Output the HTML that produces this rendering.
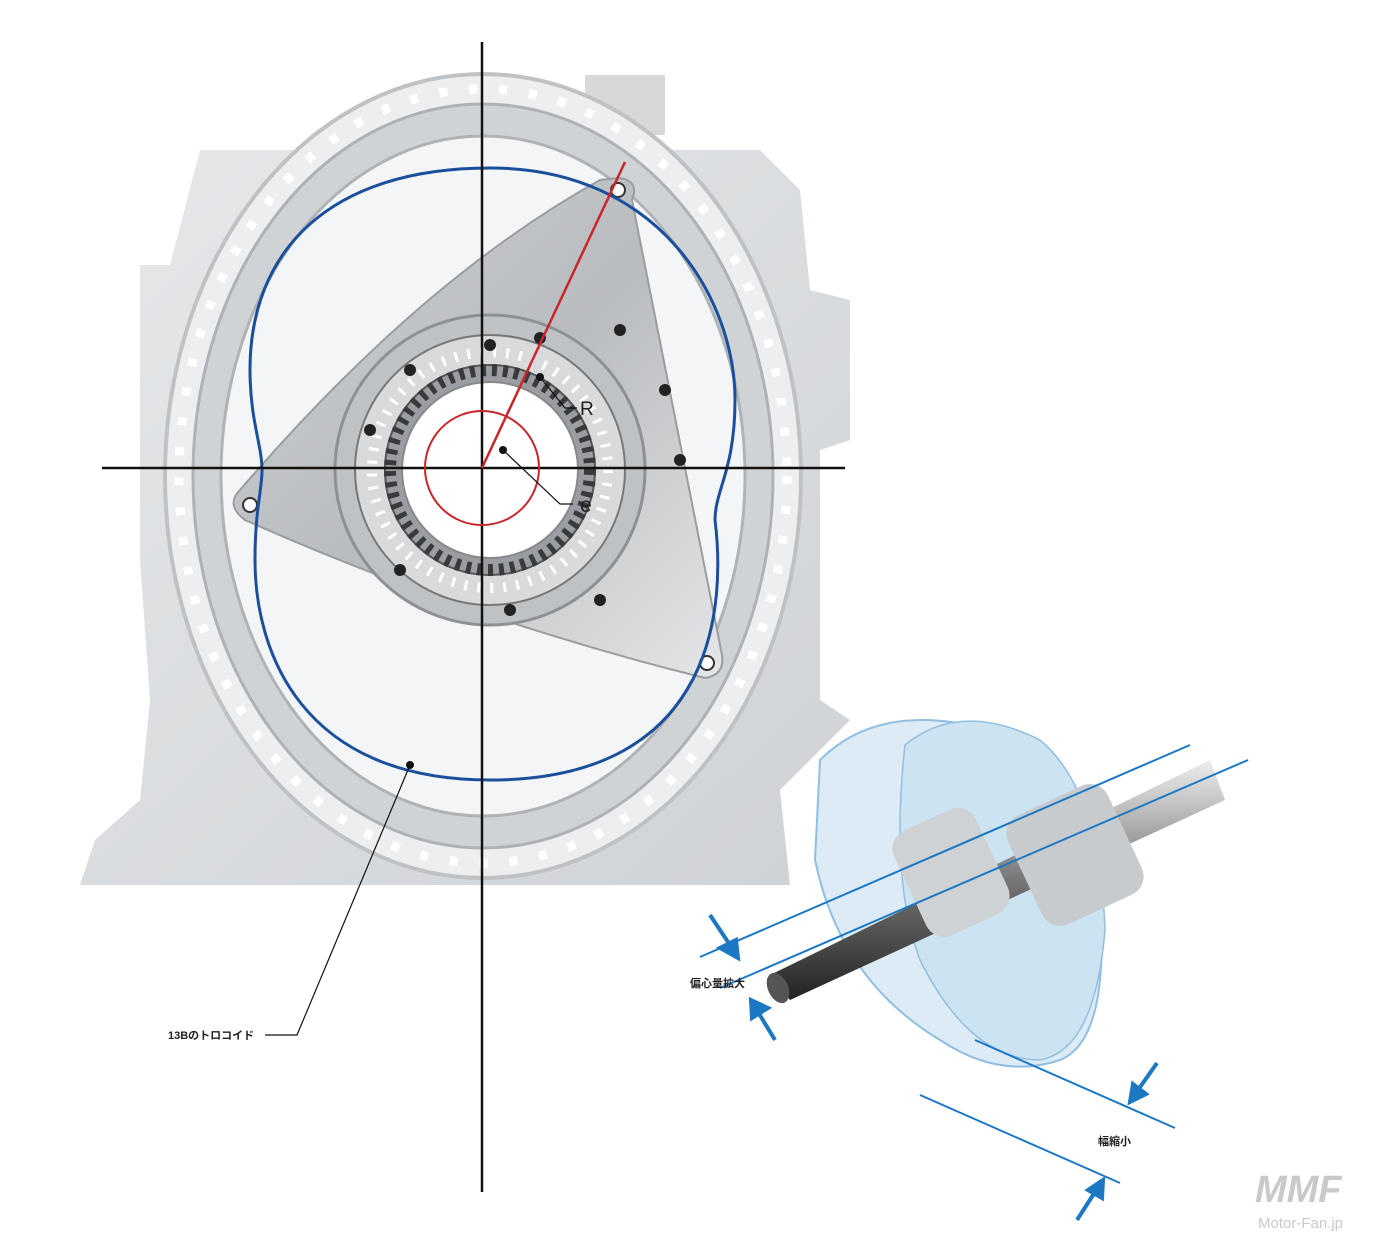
<!DOCTYPE html>
<html><head><meta charset="utf-8"><style>
html,body{margin:0;padding:0;background:#fff;}
svg{display:block}
text{font-family:"Liberation Sans","Noto Sans CJK JP",sans-serif;}
</style></head><body>
<svg width="1400" height="1240" viewBox="0 0 1400 1240" xmlns="http://www.w3.org/2000/svg">
<defs>
<linearGradient id="hg" x1="0" y1="0" x2="1" y2="1">
<stop offset="0" stop-color="#e6e8ea"/><stop offset="1" stop-color="#cfd2d5"/></linearGradient>
<linearGradient id="rg" x1="0" y1="0" x2="1" y2="1">
<stop offset="0" stop-color="#cfd1d3"/><stop offset="0.5" stop-color="#b9bcbf"/><stop offset="1" stop-color="#e4e5e6"/></linearGradient>
<linearGradient id="sh" x1="0" y1="0" x2="0" y2="1">
<stop offset="0" stop-color="#eee"/><stop offset="0.5" stop-color="#777"/><stop offset="1" stop-color="#222"/></linearGradient>
</defs>
<!-- housing block -->
<path d="M140 265 L170 265 L200 150 L760 150 L800 190 L810 290 L850 300 L850 440 L820 450 L820 700 L850 720 L780 790 L790 885 L80 885 L95 840 L140 800 L150 700 L140 560 Z" fill="url(#hg)"/>
<rect x="585" y="75" width="80" height="60" fill="#d6d8da"/>
<!-- outer ring -->
<ellipse cx="483" cy="476" rx="318" ry="402" fill="#eceef0" stroke="#bfc2c5" stroke-width="4"/>
<ellipse cx="483" cy="476" rx="290" ry="372" fill="#d0d3d6" stroke="#aeb2b6" stroke-width="3"/>
<ellipse cx="483" cy="476" rx="262" ry="340" fill="#f4f5f6" stroke="#b0b3b6" stroke-width="3"/>
<ellipse cx="483" cy="476" rx="304" ry="387" fill="none" stroke="#fff" stroke-width="9" stroke-dasharray="8 22"/>
<!-- rotor -->
<path d="M618 178 Q640 180 632 200 L722 655 Q725 675 705 678 Q470 620 245 520 Q225 505 240 490 Q420 280 600 180 Z" fill="url(#rg)" stroke="#9a9da0" stroke-width="2"/>
<circle cx="618" cy="190" r="7" fill="#fff" stroke="#333" stroke-width="2"/>
<circle cx="250" cy="505" r="7" fill="#fff" stroke="#333" stroke-width="2"/>
<circle cx="707" cy="663" r="7" fill="#fff" stroke="#333" stroke-width="2"/>
<!-- gear -->
<circle cx="490" cy="470" r="155" fill="#bfc2c5" stroke="#8d9094" stroke-width="3"/>
<circle cx="490" cy="470" r="135" fill="#d8dadc" stroke="#777" stroke-width="2"/>
<circle cx="490" cy="470" r="118" fill="none" stroke="#fff" stroke-width="10" stroke-dasharray="3 10"/>
<circle cx="490" cy="470" r="105" fill="#9a9da1" stroke="#555" stroke-width="2"/>
<circle cx="490" cy="470" r="100" fill="none" stroke="#3a3a3a" stroke-width="12" stroke-dasharray="5 6"/>
<circle cx="490" cy="470" r="88" fill="#fff" stroke="#888" stroke-width="2"/>
<g fill="#222">
<circle cx="490" cy="345" r="6"/><circle cx="620" cy="330" r="6"/><circle cx="665" cy="390" r="6"/><circle cx="680" cy="460" r="6"/><circle cx="600" cy="600" r="6"/><circle cx="510" cy="610" r="6"/><circle cx="400" cy="570" r="6"/><circle cx="370" cy="430" r="6"/><circle cx="410" cy="370" r="6"/><circle cx="540" cy="338" r="6"/>
</g>
<!-- trochoid -->
<path d="M490 168 C660 168 735 300 735 400 C735 470 715 490 715 520 C725 600 720 780 490 780 C300 780 255 650 255 560 C255 510 262 490 262 470 C262 445 250 420 250 370 C250 250 330 168 490 168 Z" fill="none" stroke="#1a4f9c" stroke-width="3"/>
<!-- axes -->
<line x1="482" y1="42" x2="482" y2="1192" stroke="#111" stroke-width="2.5"/>
<line x1="102" y1="468" x2="845" y2="468" stroke="#111" stroke-width="2.5"/>
<circle cx="482" cy="468" r="57" fill="none" stroke="#c8262a" stroke-width="2"/>
<line x1="482" y1="468" x2="625" y2="162" stroke="#c8262a" stroke-width="2.5"/>
<circle cx="540" cy="377" r="4" fill="#111"/><circle cx="503" cy="450" r="4" fill="#111"/>
<polyline points="540,377 565,408 577,408" fill="none" stroke="#111" stroke-width="1.2"/>
<polyline points="503,450 560,504 573,504" fill="none" stroke="#111" stroke-width="1.2"/>
<text x="580" y="415" font-size="19" fill="#222">R</text>
<text x="580" y="512" font-size="21" fill="#222">e</text>
<circle cx="410" cy="765" r="4" fill="#111"/>
<polyline points="410,765 297,1035 265,1035" fill="none" stroke="#111" stroke-width="1.2"/>
<text x="168" y="1039" font-size="11" font-weight="bold" fill="#222">13Bのトロコイド</text>
<!-- eccentric shaft band -->
<g opacity="0.85">
<path d="M820 760 Q880 700 990 730 Q1090 760 1100 900 Q1110 1040 1060 1060 Q1000 1080 940 1040 Q840 980 815 860 Z" fill="#d6e8f4" stroke="#7fb3dc" stroke-width="2"/>
<path d="M905 745 Q960 700 1040 740 Q1100 790 1105 930 Q1095 1050 1040 1060 Q970 1060 920 960 Q890 880 905 745 Z" fill="#c4dff0" stroke="#7fb3dc" stroke-width="1.5"/>
</g>
<polygon points="770,975 1210,760 1225,800 790,1000" fill="url(#sh)"/>
<rect x="905" y="815" width="90" height="115" rx="20" fill="#cfd2d4" transform="rotate(-25 950 870)"/>
<rect x="1020" y="795" width="110" height="120" rx="20" fill="#c8cbcd" transform="rotate(-25 1075 855)"/>
<ellipse cx="778" cy="988" rx="10" ry="16" fill="#555" transform="rotate(-25 778 988)"/>
<line x1="1248" y1="760" x2="720" y2="988" stroke="#1d78c4" stroke-width="2"/>
<line x1="1190" y1="745" x2="700" y2="957" stroke="#1d78c4" stroke-width="2"/>
<line x1="975" y1="1040" x2="1175" y2="1128" stroke="#1d78c4" stroke-width="2"/>
<line x1="920" y1="1095" x2="1120" y2="1183" stroke="#1d78c4" stroke-width="2"/>
<g stroke="#1d78c4" stroke-width="4" fill="#1d78c4">
<line x1="710" y1="915" x2="730" y2="945"/><polygon points="738,958 720,948 736,940"/>
<line x1="775" y1="1040" x2="758" y2="1012"/><polygon points="751,1000 768,1008 752,1018"/>
<line x1="1157" y1="1063" x2="1138" y2="1090"/><polygon points="1130,1102 1133,1084 1146,1094"/>
<line x1="1077" y1="1220" x2="1095" y2="1192"/><polygon points="1103,1180 1102,1198 1088,1190"/>
</g>
<text x="690" y="987" font-size="11" font-weight="bold" fill="#222">偏心量拡大</text>
<text x="1098" y="1145" font-size="11" font-weight="bold" fill="#222">幅縮小</text>
<!-- logo -->
<text x="1255" y="1202" font-size="38" font-weight="bold" font-style="italic" fill="#c9c9c9">MMF</text>
<text x="1258" y="1228" font-size="15" fill="#c9c9c9">Motor-Fan.jp</text>
</svg>
</body></html>
